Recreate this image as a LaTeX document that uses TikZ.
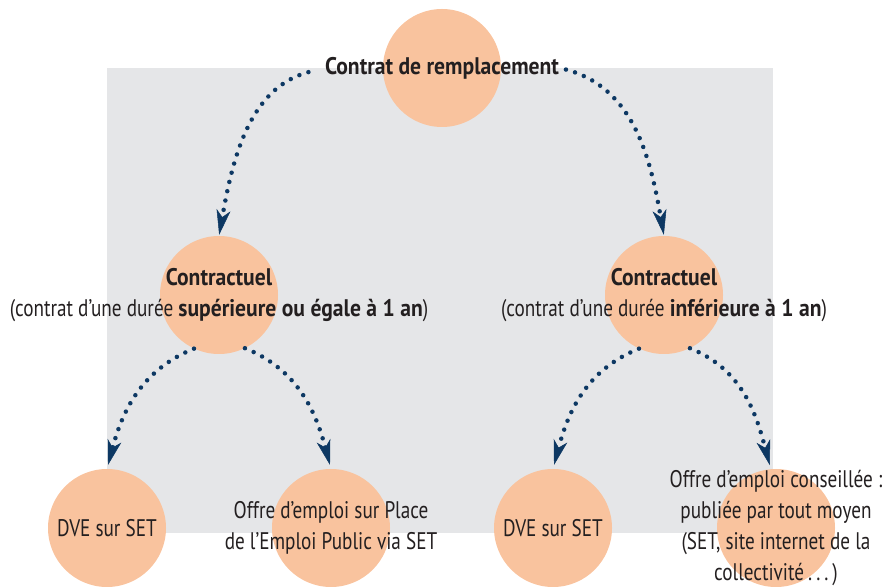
\documentclass[tikz,border=0pt]{standalone}
\usepackage{fontspec}
\setmainfont{PT Sans}[FakeStretch=0.8,BoldFeatures={FakeStretch=0.9}]
\usetikzlibrary{arrows.meta}
\definecolor{peach}{HTML}{F9C39E}
\definecolor{panel}{HTML}{E5E6E8}
\definecolor{navy}{HTML}{0D3863}
\definecolor{ink}{HTML}{231F20}

\begin{document}
\begin{tikzpicture}[x=1pt,y=1pt,
  disc/.style={circle,fill=peach,minimum size=118pt,inner sep=0pt},
  lbl/.style={text=ink,align=center,font=\fontsize{24}{31}\selectfont,inner sep=1pt},
  dots/.style={navy,line width=4.5pt,line cap=round,dash pattern=on 0pt off 9.5pt,
    -{Stealth[length=25pt 0,width=14pt 0,inset=7pt 0,line width=0.5pt]}}]
\useasboundingbox (0,0) rectangle (883,586);
\fill[panel] (107,53) rectangle (773,518);
% circles
\node[disc] (top) at (442,518) {};
\node[disc] (lmid) at (219,291) {};
\node[disc] (rmid) at (664,291) {};
\node[disc] (dveL) at (107,58) {};
\node[disc] (offL) at (331,58) {};
\node[disc] (dveR) at (553,58) {};
\node[disc] (offR) at (776,58) {};
% texts
\node[lbl] (topt) at (top) {\textbf{Contrat de remplacement}};
\node[lbl] (lmidt) at (lmid) {\textbf{Contractuel}\\(contrat d’une durée \textbf{supérieure ou égale à 1 an})};
\node[lbl] (rmidt) at (rmid) {\textbf{Contractuel}\\(contrat d’une durée \textbf{inférieure à 1 an})};
\node[lbl] (dveLt) at (dveL) {DVE sur SET};
\node[lbl] (offLt) at (offL) {Offre d’emploi sur Place\\de l’Emploi Public via SET};
\node[lbl] (dveRt) at (dveR) {DVE sur SET};
\node[lbl] (offRt) at (offR) {Offre d’emploi conseillée :\\publiée par tout moyen\\(SET, site internet de la\\collectivité\,.\,.\,.\,)};
% dotted arrows
\draw[dots,shorten <=16pt,shorten >=1pt] (topt.west) to[out=195,in=80] (lmid.north);
\draw[dots,shorten <=6pt,shorten >=1pt] (topt.east) to[out=-15,in=100] (rmid.north);
\draw[dots,shorten >=4pt] (lmid.245) to[out=202,in=75] (dveL.north);
\draw[dots,shorten >=4pt] (lmid.296) to[out=-22,in=105] (offL.north);
\draw[dots,shorten >=4pt] (rmid.245) to[out=202,in=75] (dveR.north);
\draw[dots,shorten >=4pt] (rmid.296) to[out=-22,in=105] (offR.95);
\end{tikzpicture}
\end{document}
